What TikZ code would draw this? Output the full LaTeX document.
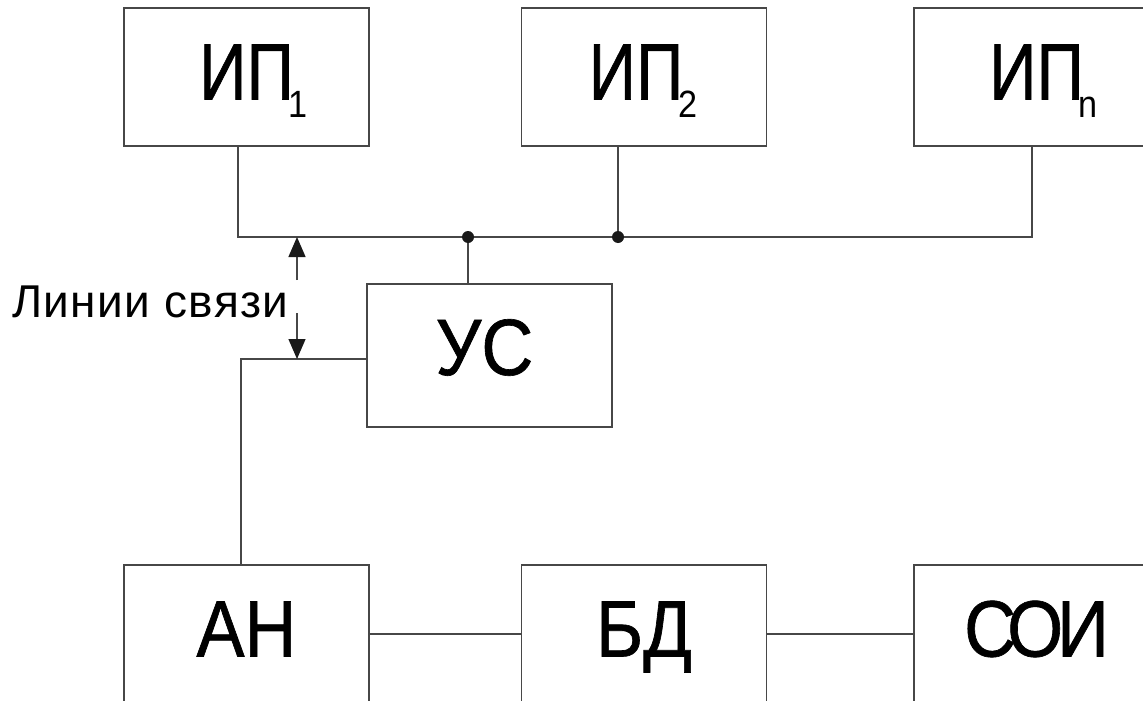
\documentclass[tikz,border=0pt]{standalone}
\usepackage{fontspec}
\setmainfont{Liberation Sans}
\newfontfamily\bigf[FakeStretch=0.9,FakeBold=0.8]{Liberation Sans}
\newfontfamily\ipf[FakeStretch=0.82,FakeBold=0.8]{Liberation Sans}
\newfontfamily\subf[FakeStretch=0.9]{Liberation Sans}
\newfontfamily\lblf[LetterSpace=3]{Liberation Sans}
\usetikzlibrary{arrows.meta}
\tikzset{
  ln/.style={draw=black!72, line width=1.3pt},
  blk/.style={ln, rectangle, minimum width=245pt, minimum height=138pt, inner sep=0pt,
    font=\bigf\fontsize{80}{80}\selectfont, text height=57pt, text depth=12pt},
  ipblk/.style={blk, font=\ipf\fontsize{80}{80}\selectfont},
  usblk/.style={blk, minimum height=143pt, text depth=18pt},
  dotc/.style={circle, fill=black!90, inner sep=0pt, minimum size=12pt},
  arr/.style={ln, -{Triangle[length=20pt,width=17pt,fill=black!90,color=black!90]}}
}
\newcommand{\subsc}[2][-5pt]{\rlap{\kern#1\raisebox{-18pt}{\subf\fontsize{38}{38}\selectfont #2}}}
\begin{document}
\begin{tikzpicture}[x=1pt,y=-1pt]
\useasboundingbox (0,0) rectangle (1143,701);
% top blocks
\node[ipblk] (ip1) at (246.5,77) {ИП\subsc{1}};
\node[ipblk] (ip2) at (644,77) {\kern-16pt ИП\subsc{2}};
\node[ipblk] (ipn) at (1036.5,77) {ИП\subsc{n}};
% US
\node[usblk] (us) at (489.5,355.5) {\kern-10pt УС};
% bottom blocks
\node[blk] (an) at (246.5,634) {АН};
\node[blk] (bd) at (644,634) {БД};
\node[blk] (soi) at (1036.5,634) {С\kern-9pt О\kern-6pt И};
% bus coordinates
\coordinate (b1) at (238,237);
\coordinate (bn) at (1032,237);
\coordinate (j1) at (468,237);
\coordinate (j2) at (618,237);
\coordinate (c1) at (241,359);
\draw[ln] (ip1.south -| b1) -- (b1) -- (bn) -- (ipn.south -| bn);
\draw[ln] (ip2.south -| j2) -- (j2);
\draw[ln] (j1) -- (us.north -| j1);
\draw[ln] (us.west |- c1) -- (c1) -- (an.north -| c1);
\draw[ln] (an.east) -- (bd.west);
\draw[ln] (bd.east) -- (soi.west);
\node[dotc] (d1) at (j1) {};
\node[dotc] (d2) at (j2) {};
% label and arrows
\node[anchor=base west, inner sep=0pt, font=\lblf\fontsize{46}{46}\selectfont] (lbl) at (12,317) {Линии связи};
\coordinate (t1) at (297,280);
\coordinate (h1) at (297,237);
\coordinate (t2) at (297,313);
\coordinate (h2) at (297,359);
\draw[arr] (t1) -- (h1);
\draw[arr] (t2) -- (h2);
\end{tikzpicture}
\end{document}
